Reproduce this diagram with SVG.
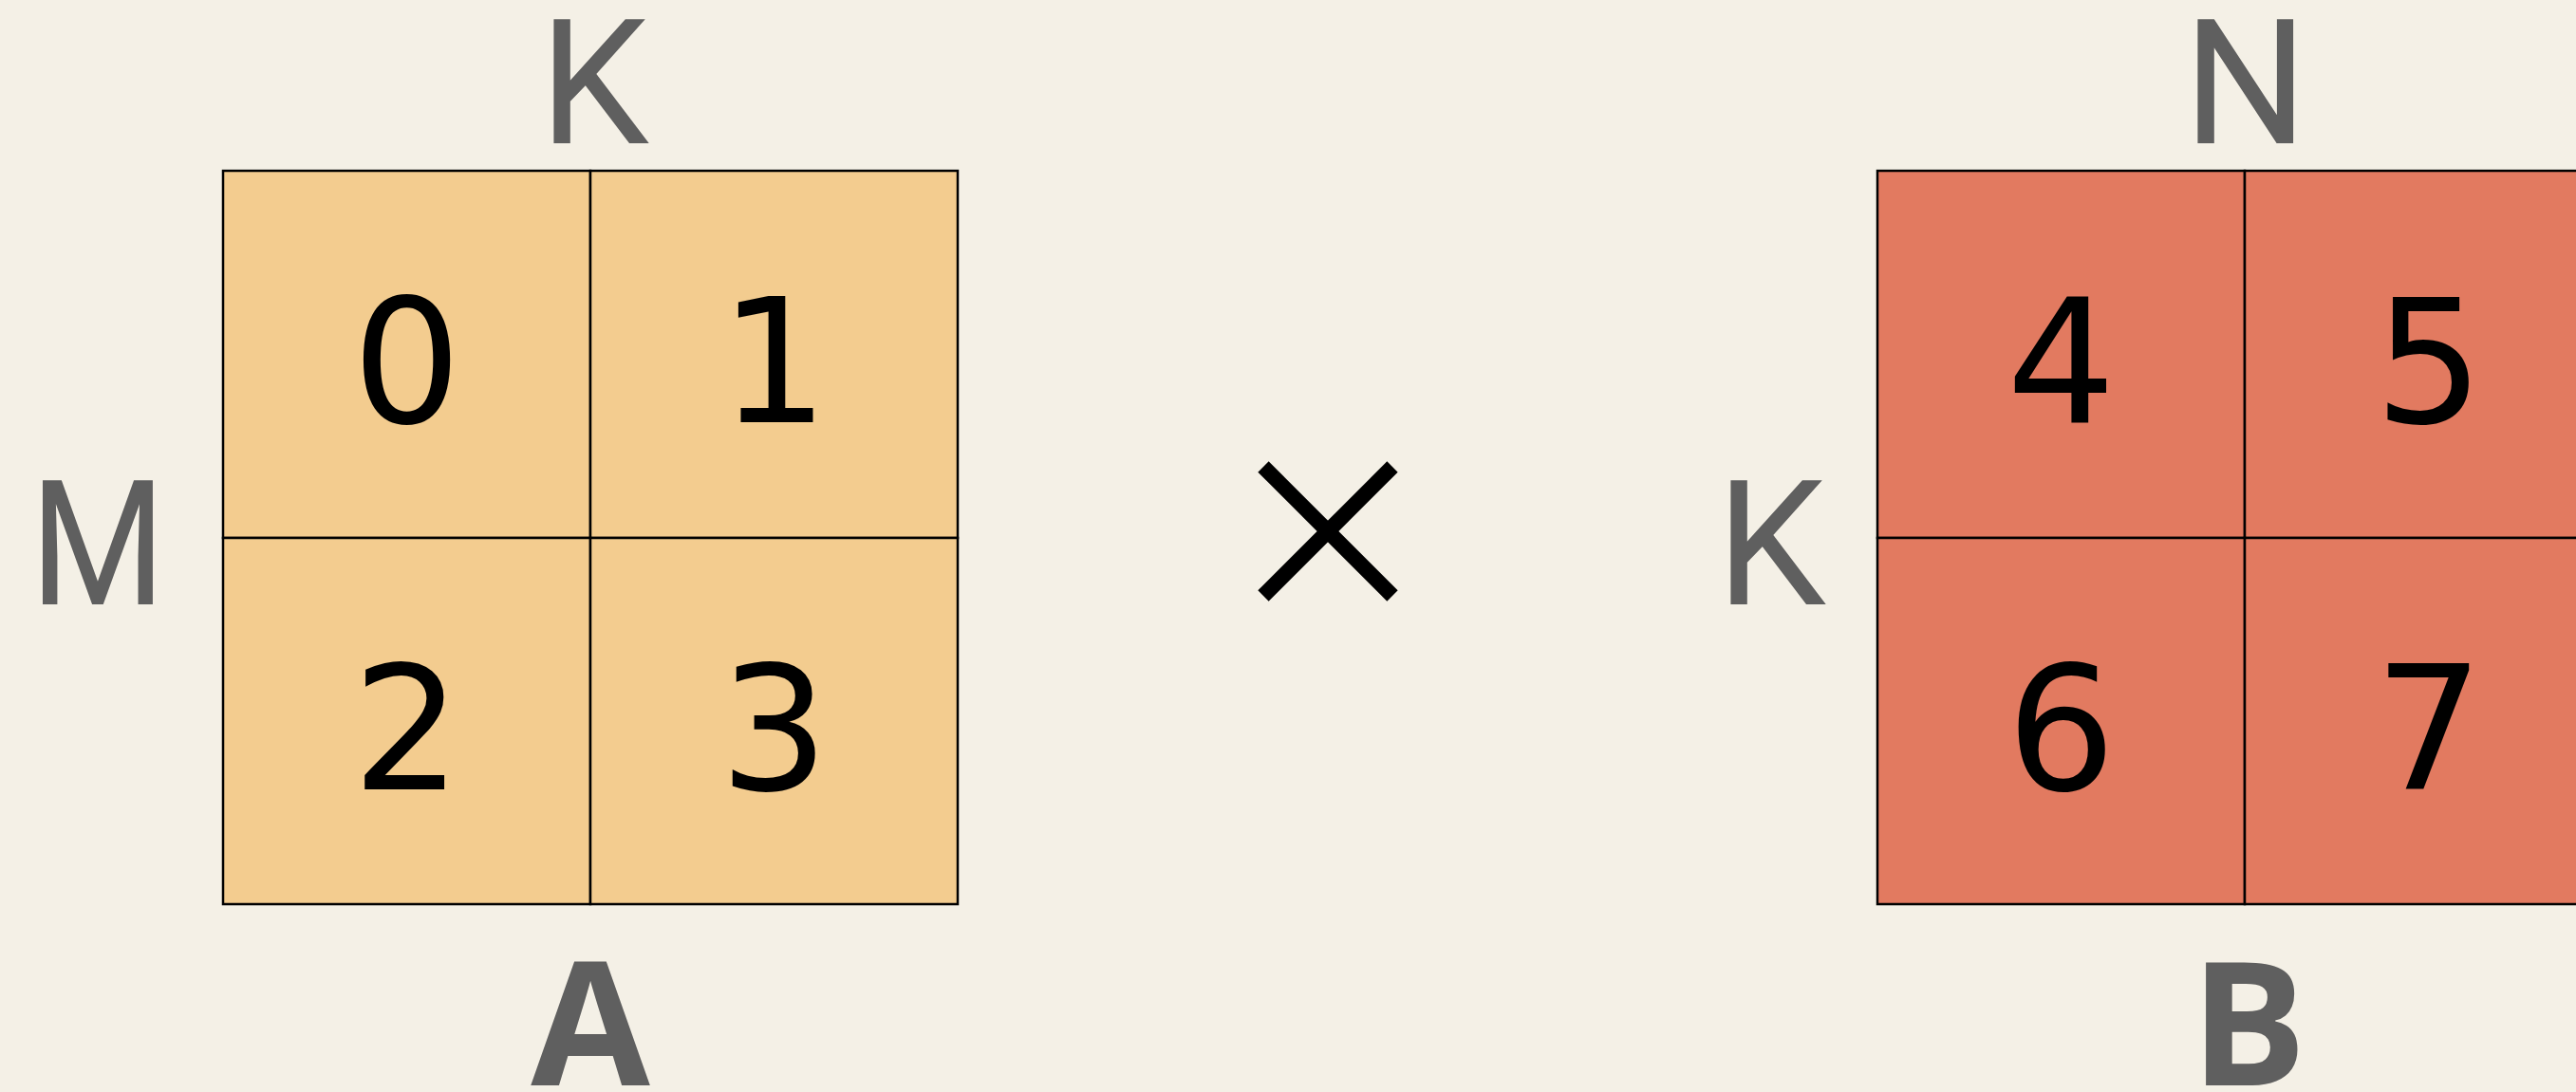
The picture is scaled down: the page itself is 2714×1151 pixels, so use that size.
<svg xmlns="http://www.w3.org/2000/svg" width="2714" height="1151" viewBox="0 0 2714 1151">
<style>
.bg{fill:#f4f0e6}
.ca{fill:#f3cc8f;stroke:#000;stroke-width:2.5}
.cb{fill:#e27a60;stroke:#000;stroke-width:2.5}
.dg{font-family:"DejaVu Sans",sans-serif;font-size:181px;fill:#000;text-anchor:middle}
.dim{font-family:Roboto,"Liberation Sans",sans-serif;font-size:184px;fill:#5f5f5f;text-anchor:middle}
.nm{font-family:"Open Sans","DejaVu Sans",sans-serif;font-weight:bold;font-size:182px;fill:#5f5f5f;text-anchor:middle}
.op{stroke:#000;stroke-width:16;fill:none}
</style>
<rect class="bg" x="0" y="0" width="2714" height="1151"/>
<g id="matrixA">
  <g id="a0"><rect class="ca" x="235" y="180" width="387" height="387"/><text class="dg" x="428.5" y="445">0</text></g>
  <g id="a1"><rect class="ca" x="622" y="180" width="387" height="387"/><text class="dg" x="815.5" y="445">1</text></g>
  <g id="a2"><rect class="ca" x="235" y="567" width="387" height="386"/><text class="dg" x="428.5" y="832">2</text></g>
  <g id="a3"><rect class="ca" x="622" y="567" width="387" height="386"/><text class="dg" x="815.5" y="832">3</text></g>
  <text class="dim" x="626" y="151">K</text>
  <text class="dim" transform="translate(103 637) scale(0.89 1)" x="0" y="0">M</text>
  <text class="nm" x="622" y="1144">A</text>
</g>
<g id="times">
  <line class="op" x1="1331" y1="492" x2="1467" y2="628"/>
  <line class="op" x1="1467" y1="492" x2="1331" y2="628"/>
</g>
<g id="matrixB">
  <g id="b4"><rect class="cb" x="1978" y="180" width="387" height="387"/><text class="dg" x="2171.5" y="445">4</text></g>
  <g id="b5"><rect class="cb" x="2365" y="180" width="387" height="387"/><text class="dg" x="2559" y="445">5</text></g>
  <g id="b6"><rect class="cb" x="1978" y="567" width="387" height="386"/><text class="dg" x="2171.5" y="832">6</text></g>
  <g id="b7"><rect class="cb" x="2365" y="567" width="387" height="386"/><text class="dg" x="2559" y="832">7</text></g>
  <text class="dim" x="2366" y="151">N</text>
  <text class="dim" x="1866" y="637">K</text>
  <text class="nm" x="2369" y="1144">B</text>
</g>
<g id="connectors"></g>
</svg>
